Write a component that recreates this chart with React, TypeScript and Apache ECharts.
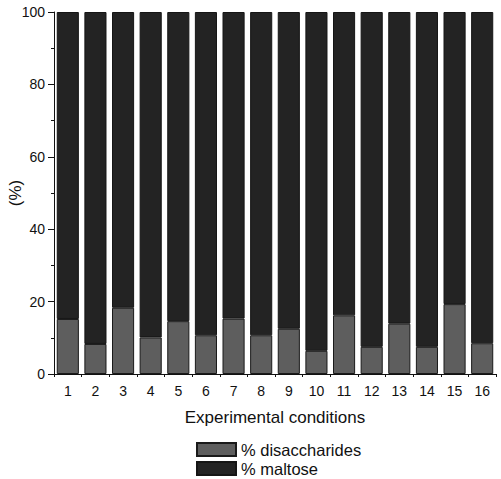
import React, { useEffect, useRef } from 'react'
import * as echarts from 'echarts'

const conditions = ['1', '2', '3', '4', '5', '6', '7', '8', '9', '10', '11', '12', '13', '14', '15', '16']
const disaccharides = [15.2, 8.3, 18.3, 10.1, 14.6, 10.7, 15.3, 10.7, 12.5, 6.4, 16.2, 7.5, 13.9, 7.5, 19.3, 8.5]
const maltose = disaccharides.map(v => +(100 - v).toFixed(1))
const yTicks = [0, 20, 40, 60, 80, 100]

const font = '"Liberation Sans", Arial, sans-serif'

export default function App() {
  const ref = useRef<HTMLDivElement | null>(null)

  useEffect(() => {
    if (!ref.current) return
    const chart = echarts.init(ref.current, undefined, { renderer: 'svg' })
    chart.setOption({
      animation: false,
      textStyle: { fontFamily: font },
      grid: { left: 54, right: 5, top: 12, bottom: 105, outerBoundsMode: 'none' },
      legend: {
        orient: 'vertical',
        left: 196,
        top: 441,
        height: 36,
        padding: 0,
        itemWidth: 39,
        itemHeight: 13,
        itemGap: 2,
        icon: 'rect',
        textStyle: { fontSize: 16.5, lineHeight: 16, color: '#111', fontFamily: font },
        data: ['% disaccharides', '% maltose'],
      },
      xAxis: [
        {
          type: 'category',
          data: conditions,
          name: 'Experimental conditions',
          nameLocation: 'middle',
          nameGap: 35,
          nameMoveOverlap: false,
          nameTextStyle: { fontSize: 17, color: '#111', fontFamily: font },
          axisLine: { lineStyle: { color: '#111', width: 1 } },
          axisTick: { alignWithLabel: true, length: 6, lineStyle: { color: '#111' } },
          axisLabel: { fontSize: 14, color: '#111', margin: 10 },
        },
        {
          type: 'value',
          position: 'bottom',
          min: 0,
          max: 16,
          interval: 1,
          axisLine: { show: false },
          axisTick: { show: true, length: 3, lineStyle: { color: '#111' } },
          axisLabel: { show: false },
          splitLine: { show: false },
        },
      ],
      yAxis: {
        type: 'value',
        min: 0,
        max: 100,
        interval: 20,
        name: '(%)',
        nameLocation: 'middle',
        nameGap: 30,
        nameMoveOverlap: false,
        nameTextStyle: { fontSize: 17, color: '#111', fontFamily: font },
        axisLine: { show: true, lineStyle: { color: '#111', width: 1 } },
        axisTick: { show: true, length: 6, lineStyle: { color: '#111' } },
        minorTick: { show: true, splitNumber: 2, length: 3, lineStyle: { color: '#111' } },
        axisLabel: {
          fontSize: 14,
          color: '#111',
          margin: 9,
          formatter: (v: number) => (yTicks.includes(v) ? String(v) : ''),
        },
        splitLine: { show: false },
      },
      series: [
        {
          name: '% disaccharides',
          type: 'bar',
          stack: 'total',
          data: disaccharides,
          barCategoryGap: '20%',
          itemStyle: { color: '#5e5e5e', borderColor: '#1a1a1a', borderWidth: 1 },
        },
        {
          name: '% maltose',
          type: 'bar',
          stack: 'total',
          data: maltose,
          barCategoryGap: '20%',
          itemStyle: { color: '#232323', borderColor: '#151515', borderWidth: 1 },
        },
      ],
    } as any)
    return () => chart.dispose()
  }, [])

  return <div ref={ref} style={{ position: 'fixed', left: 0, top: 0, width: 501, height: 479, background: '#fff' }} />
}
